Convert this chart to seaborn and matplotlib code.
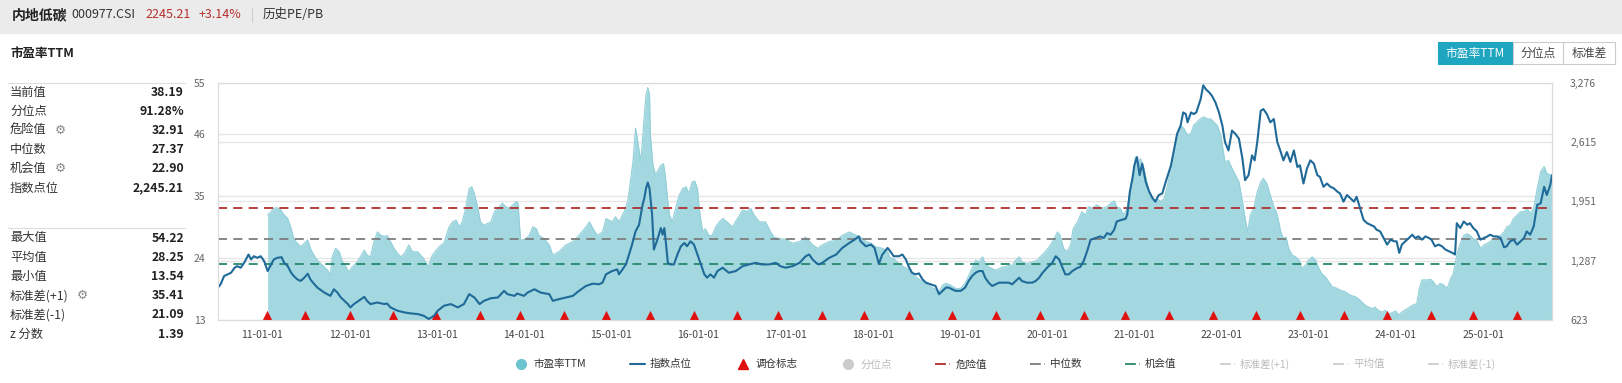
import numpy as np
import pandas as pd
import matplotlib
matplotlib.use("Agg")
import matplotlib.pyplot as plt
import matplotlib.dates as mdates
from matplotlib.lines import Line2D
from matplotlib.patches import Rectangle
from matplotlib.ticker import FuncFormatter
import seaborn as sns

W, H = 1622, 383

# values, dates given as fractional years
pe_years = [
    2011.06, 2011.10, 2011.13, 2011.17, 2011.21, 2011.25, 2011.29, 2011.33, 2011.36, 2011.40,
    2011.44, 2011.48, 2011.52, 2011.55, 2011.59, 2011.63, 2011.71, 2011.75, 2011.78, 2011.80,
    2011.84, 2011.88, 2011.92, 2011.96, 2011.99, 2012.03, 2012.09, 2012.17, 2012.20, 2012.24,
    2012.28, 2012.32, 2012.36, 2012.40, 2012.43, 2012.47, 2012.51, 2012.55, 2012.59, 2012.63,
    2012.68, 2012.72, 2012.78, 2012.85, 2012.90, 2012.95, 2013.01, 2013.05, 2013.08, 2013.14,
    2013.18, 2013.22, 2013.26, 2013.29, 2013.33, 2013.37, 2013.40, 2013.43, 2013.47, 2013.50,
    2013.54, 2013.62, 2013.66, 2013.70, 2013.75, 2013.79, 2013.83, 2013.87, 2013.91, 2013.93,
    2013.96, 2014.02, 2014.06, 2014.10, 2014.14, 2014.17, 2014.23,
    2014.29, 2014.33, 2014.40, 2014.48, 2014.56, 2014.63, 2014.71, 2014.75, 2014.79, 2014.84,
    2014.90, 2014.94, 2015.01, 2015.05, 2015.09, 2015.15, 2015.19, 2015.22, 2015.25, 2015.28,
    2015.30, 2015.34, 2015.38, 2015.40, 2015.42, 2015.44, 2015.45, 2015.48, 2015.51, 2015.54,
    2015.57, 2015.60, 2015.62, 2015.65, 2015.67, 2015.70, 2015.74, 2015.78, 2015.82, 2015.86,
    2015.89, 2015.93, 2015.96, 2015.99, 2016.01, 2016.05, 2016.08, 2016.12, 2016.16, 2016.20,
    2016.24, 2016.28, 2016.33, 2016.39, 2016.45, 2016.51, 2016.56, 2016.60, 2016.64, 2016.70,
    2016.77, 2016.83, 2016.87, 2016.93, 2017.00, 2017.08, 2017.16, 2017.23, 2017.31, 2017.37,
    2017.42, 2017.50, 2017.58, 2017.65, 2017.73, 2017.81, 2017.86, 2017.92, 2017.98, 2018.03,
    2018.11, 2018.17,
    2018.20, 2018.24, 2018.32, 2018.40, 2018.47, 2018.55, 2018.63, 2018.70, 2018.76, 2018.80,
    2018.84, 2018.89, 2018.95, 2019.01, 2019.06, 2019.12, 2019.18, 2019.22, 2019.26, 2019.29,
    2019.33, 2019.37, 2019.41, 2019.45, 2019.49, 2019.52, 2019.56, 2019.60, 2019.64, 2019.68,
    2019.71, 2019.77, 2019.83, 2019.89, 2019.92, 2019.98, 2020.04, 2020.08, 2020.12, 2020.15,
    2020.19, 2020.23, 2020.27, 2020.30, 2020.35, 2020.40, 2020.44, 2020.48, 2020.52, 2020.57,
    2020.63, 2020.69, 2020.73, 2020.77, 2020.80, 2020.84, 2020.88, 2020.92, 2020.96, 2021.00,
    2021.01, 2021.04, 2021.07, 2021.11, 2021.15, 2021.19, 2021.22, 2021.26, 2021.30, 2021.34,
    2021.38, 2021.42, 2021.45, 2021.49, 2021.53, 2021.57, 2021.61, 2021.65, 2021.68, 2021.72,
    2021.76, 2021.80, 2021.84, 2021.87, 2021.91, 2021.95, 2021.99,
    2022.04, 2022.08, 2022.12, 2022.16, 2022.20, 2022.24, 2022.27, 2022.30, 2022.33, 2022.37,
    2022.41, 2022.45, 2022.48, 2022.52, 2022.56, 2022.60, 2022.64, 2022.68, 2022.71, 2022.74,
    2022.77, 2022.81, 2022.85, 2022.89, 2022.92, 2022.96, 2023.00, 2023.04, 2023.08, 2023.11,
    2023.15, 2023.19, 2023.23, 2023.27, 2023.33, 2023.36, 2023.42, 2023.48, 2023.54, 2023.57,
    2023.61, 2023.65, 2023.69, 2023.73, 2023.76, 2023.80, 2023.84, 2023.88, 2023.92, 2023.96,
    2024.00, 2024.03, 2024.07, 2024.13, 2024.19, 2024.24, 2024.27, 2024.30, 2024.36, 2024.40,
    2024.43, 2024.47, 2024.51, 2024.55, 2024.59, 2024.63, 2024.66, 2024.70, 2024.74, 2024.78,
    2024.82, 2024.85, 2024.89, 2024.93, 2024.97, 2025.01, 2025.05, 2025.08, 2025.12, 2025.16,
    2025.20, 2025.24, 2025.27, 2025.31, 2025.35, 2025.39, 2025.43, 2025.47, 2025.50, 2025.54,
    2025.58, 2025.62, 2025.66, 2025.70, 2025.73, 2025.77, 2025.79,
]
pe_values = [
    31.6, 32.2, 32.8, 32.9, 32.5, 31.6, 31.0, 29.2, 27.4, 26.6,
    26.0, 26.6, 27.2, 25.7, 24.5, 23.6, 22.4, 21.8, 20.9, 24.2,
    25.7, 25.1, 23.3, 22.4, 21.5, 22.4, 23.3, 25.4, 24.5, 24.2,
    26.9, 28.6, 28.0, 27.8, 28.0, 26.9, 25.7, 24.8, 24.2, 24.8,
    26.3, 25.1, 25.1, 23.9, 22.4, 24.5, 25.7, 26.3, 26.6, 29.5,
    30.4, 30.7, 29.5, 30.4, 32.8, 36.3, 36.6, 35.4, 32.8, 30.4,
    29.8, 30.4, 32.2, 32.8, 33.7, 33.1, 32.8, 33.4, 34.0, 33.7,
    27.1, 27.4, 28.0, 29.5, 29.2, 28.0, 27.4,
    26.3, 24.5, 25.1, 26.3, 26.9, 28.0, 29.5, 30.4, 29.2, 28.0,
    28.6, 31.0, 30.4, 31.3, 30.4, 32.2, 34.0, 37.5, 41.0, 47.0,
    45.2, 41.0, 49.3, 52.9, 54.2, 52.9, 45.8, 40.4, 38.7, 39.6,
    40.4, 40.7, 38.7, 34.0, 31.6, 30.4, 32.8, 35.1, 36.3, 36.6,
    35.4, 37.5, 37.6, 36.3, 32.8, 28.6, 29.2, 28.0, 28.0, 29.5,
    30.4, 31.0, 30.4, 29.5, 31.0, 32.5, 32.2, 32.8, 31.6, 30.4,
    30.4, 28.6, 27.7, 27.4, 27.3, 26.6, 26.9, 27.7, 26.3, 25.7,
    26.3, 26.9, 27.1, 28.0, 28.6, 28.0, 27.7, 26.9, 26.6, 26.0,
    25.7, 25.2,
    24.0, 23.9, 22.7, 22.1, 20.9, 20.0, 19.2, 18.6, 18.0, 19.2,
    19.5, 19.2, 18.6, 18.6, 19.5, 21.5, 23.6, 23.3, 24.2, 23.0,
    22.4, 22.1, 21.8, 22.1, 22.4, 22.4, 22.7, 22.7, 23.6, 24.2,
    23.3, 23.0, 23.3, 23.6, 24.2, 25.1, 26.3, 27.4, 28.6, 28.0,
    25.7, 25.1, 26.3, 29.2, 30.4, 32.2, 31.6, 33.1, 32.8, 33.4,
    32.8, 33.1, 33.7, 34.1, 33.1, 32.8, 31.6, 32.8, 36.3, 40.4,
    41.9, 40.7, 41.6, 39.9, 36.9, 34.5, 34.0, 34.5, 34.0, 34.5,
    36.9, 39.9, 42.2, 44.6, 47.5, 46.9, 45.8, 46.1, 47.5, 48.1,
    48.7, 49.0, 48.6, 48.7, 48.1, 47.5, 45.8,
    41.0, 41.3, 39.9, 38.7, 37.5, 34.0, 31.0, 28.6, 31.6, 32.8,
    35.7, 37.5, 38.1, 37.2, 35.1, 33.1, 31.6, 28.6, 27.4, 27.7,
    25.7, 24.5, 24.2, 23.6, 22.1, 22.7, 23.6, 24.2, 23.6, 22.4,
    21.2, 20.7, 19.8, 18.9, 18.6, 18.3, 18.0, 17.4, 17.1, 16.8,
    16.2, 15.6, 15.3, 15.0, 15.3, 14.7, 14.4, 14.7, 14.1, 14.3,
    14.6, 13.9, 14.4, 15.0, 15.6, 15.9, 18.6, 20.1, 20.1, 20.2,
    19.8, 18.9, 19.5, 19.2, 18.6, 20.4, 21.2, 24.5, 26.6, 28.0,
    28.3, 28.0, 27.4, 27.1, 25.7, 26.3, 26.6, 26.9, 27.4, 27.7,
    28.0, 28.6, 29.5, 29.8, 31.0, 31.6, 32.2, 32.2, 32.8, 31.9,
    32.8, 36.3, 39.3, 40.2, 39.0, 38.7, 38.19,
]

idx_years = [
    2010.49, 2010.52, 2010.56, 2010.60, 2010.64, 2010.68, 2010.71, 2010.75, 2010.79, 2010.84,
    2010.87, 2010.90, 2010.94, 2010.98, 2011.02, 2011.06, 2011.10, 2011.13, 2011.17, 2011.22,
    2011.25, 2011.29, 2011.33, 2011.36, 2011.40, 2011.44, 2011.48, 2011.52, 2011.55, 2011.59,
    2011.63, 2011.71, 2011.78, 2011.82, 2011.86, 2011.90, 2011.98, 2012.01, 2012.05, 2012.13,
    2012.17, 2012.20, 2012.24, 2012.32, 2012.40, 2012.43, 2012.47, 2012.55, 2012.63, 2012.70,
    2012.78, 2012.85, 2012.91, 2012.97, 2013.01, 2013.08, 2013.16, 2013.24, 2013.31, 2013.37,
    2013.43, 2013.49, 2013.54, 2013.62, 2013.70, 2013.77, 2013.81, 2013.89, 2013.92, 2014.00,
    2014.04, 2014.12, 2014.19,
    2014.29, 2014.33, 2014.40, 2014.48, 2014.56, 2014.63, 2014.71, 2014.79, 2014.86, 2014.90,
    2014.94, 2015.01, 2015.07, 2015.09, 2015.17, 2015.24, 2015.28, 2015.32, 2015.36, 2015.38,
    2015.40, 2015.42, 2015.44, 2015.47, 2015.49, 2015.53, 2015.57, 2015.59, 2015.61, 2015.63,
    2015.65, 2015.68, 2015.72, 2015.76, 2015.80, 2015.84, 2015.87, 2015.91, 2015.95, 2015.99,
    2016.03, 2016.07, 2016.10, 2016.14, 2016.18, 2016.22, 2016.28, 2016.35, 2016.43, 2016.51,
    2016.58, 2016.66, 2016.73, 2016.81, 2016.89, 2016.94, 2017.00, 2017.08, 2017.16, 2017.23,
    2017.27, 2017.31, 2017.35, 2017.38, 2017.42, 2017.50, 2017.58, 2017.65, 2017.73, 2017.79,
    2017.84, 2017.86, 2017.92, 2017.98, 2018.02, 2018.07, 2018.11, 2018.17,
    2018.20, 2018.24, 2018.30, 2018.34, 2018.38, 2018.41, 2018.45, 2018.49, 2018.53, 2018.57,
    2018.61, 2018.66, 2018.72, 2018.76, 2018.80, 2018.84, 2018.87, 2018.91, 2018.95, 2019.01,
    2019.06, 2019.10, 2019.14, 2019.18, 2019.22, 2019.26, 2019.29, 2019.33, 2019.37, 2019.41,
    2019.45, 2019.50, 2019.56, 2019.60, 2019.64, 2019.68, 2019.71, 2019.77, 2019.83, 2019.87,
    2019.91, 2019.94, 2020.00, 2020.06, 2020.10, 2020.14, 2020.17, 2020.21, 2020.25, 2020.29,
    2020.35, 2020.38, 2020.42, 2020.46, 2020.50, 2020.56, 2020.61, 2020.65, 2020.69, 2020.73,
    2020.77, 2020.80, 2020.84, 2020.90, 2020.92, 2020.95, 2020.98, 2021.00, 2021.03, 2021.06,
    2021.09, 2021.13, 2021.17, 2021.21, 2021.24, 2021.28, 2021.32, 2021.36, 2021.42, 2021.45,
    2021.49, 2021.53, 2021.56, 2021.59, 2021.61, 2021.65, 2021.68, 2021.71, 2021.76, 2021.79,
    2021.82, 2021.86, 2021.89, 2021.93, 2021.97, 2022.01,
    2022.04, 2022.08, 2022.12, 2022.16, 2022.20, 2022.24, 2022.27, 2022.31, 2022.35, 2022.38,
    2022.41, 2022.45, 2022.48, 2022.52, 2022.56, 2022.60, 2022.64, 2022.68, 2022.71, 2022.75,
    2022.79, 2022.83, 2022.87, 2022.90, 2022.94, 2022.98, 2023.02, 2023.06, 2023.10, 2023.13,
    2023.17, 2023.21, 2023.25, 2023.29, 2023.33, 2023.36, 2023.40, 2023.44, 2023.48, 2023.52,
    2023.55, 2023.59, 2023.63, 2023.67, 2023.71, 2023.75, 2023.78, 2023.82, 2023.86, 2023.90,
    2023.94, 2023.98, 2024.01, 2024.04, 2024.07, 2024.11, 2024.15, 2024.19, 2024.22, 2024.26,
    2024.30, 2024.34, 2024.38, 2024.41, 2024.45, 2024.49, 2024.53, 2024.57, 2024.61, 2024.65,
    2024.68, 2024.70, 2024.74, 2024.78, 2024.82, 2024.85, 2024.89, 2024.93, 2024.97, 2025.01,
    2025.05, 2025.08, 2025.12, 2025.16, 2025.20, 2025.24, 2025.27, 2025.31, 2025.35, 2025.39,
    2025.43, 2025.47, 2025.50, 2025.54, 2025.58, 2025.62, 2025.66, 2025.70, 2025.73, 2025.77,
    2025.79,
]
idx_values = [
    986, 1023, 1115, 1134, 1152, 1208, 1226, 1208, 1263, 1356,
    1300, 1337, 1319, 1337, 1282, 1171, 1245, 1300, 1319, 1326,
    1263, 1226, 1152, 1115, 1078, 1060, 1097, 1141, 1078, 1030,
    986, 930, 893, 967, 930, 875, 801, 764, 801, 856,
    882, 838, 801, 819, 801, 808, 764, 727, 708, 697,
    690, 671, 634, 671, 727, 782, 801, 764, 801, 912,
    875, 801, 838, 867, 875, 949, 912, 893, 919, 893,
    930, 967, 930,
    912, 838, 856, 875, 893, 949, 1004, 1030, 1023, 1041,
    1134, 1171, 1189, 1134, 1245, 1467, 1615, 1689, 1911, 1985,
    2096, 2162, 2096, 1800, 1411, 1522, 1652, 1578, 1652, 1467,
    1263, 1245, 1245, 1356, 1448, 1485, 1448, 1504, 1467, 1356,
    1245, 1134, 1097, 1134, 1097, 1171, 1208, 1152, 1171, 1226,
    1245, 1263, 1245, 1245, 1263, 1226, 1208, 1226, 1263, 1337,
    1356, 1300, 1263, 1245, 1263, 1319, 1356, 1430, 1485, 1522,
    1559, 1504, 1448, 1467, 1430, 1252, 1356, 1430,
    1393, 1337, 1337, 1356, 1300, 1226, 1152, 1134, 1145, 1078,
    1041, 1023, 1004, 912, 949, 986, 986, 967, 949, 949,
    986, 1060, 1115, 1152, 1171, 1171, 1097, 1041, 1004, 1023,
    1041, 1041, 1041, 1023, 1060, 1097, 1060, 1041, 1041, 1060,
    1097, 1141, 1208, 1263, 1337, 1300, 1226, 1134, 1134, 1171,
    1208, 1215, 1282, 1393, 1522, 1541, 1559, 1541, 1596, 1578,
    1633, 1726, 1740, 1755, 1800, 2059, 2207, 2355, 2447, 2244,
    2373, 2170, 2059, 1985, 1948, 2022, 2040, 2170, 2355, 2503,
    2706, 2799, 2947, 2928, 2836, 2947, 2928, 2947, 3095, 3250,
    3206, 3169, 3132, 3058, 2947, 2799,
    2614, 2521, 2743, 2706, 2651, 2429, 2188, 2244, 2466, 2410,
    2614, 2965, 2984, 2928, 2836, 2873, 2614, 2503, 2410, 2503,
    2392, 2521, 2336, 2355, 2151, 2318, 2410, 2373, 2244, 2225,
    2114, 2151, 2114, 2096, 2059, 2040, 1948, 2022, 1985, 1948,
    2003, 1874, 1744, 1707, 1689, 1670, 1633, 1615, 1541, 1467,
    1522, 1504, 1504, 1374, 1467, 1504, 1541, 1578, 1541, 1559,
    1522, 1559, 1541, 1522, 1448, 1467, 1448, 1411, 1393, 1374,
    1356, 1707, 1652, 1726, 1689, 1707, 1652, 1615, 1522, 1541,
    1559, 1578, 1559, 1559, 1541, 1437, 1448, 1504, 1522, 1467,
    1504, 1541, 1615, 1578, 1670, 1911, 1929, 2114, 2022, 2133,
    2245.21,
]

rebalance_years = [
    2011.05, 2011.49, 2012.00, 2012.50, 2012.99, 2013.50, 2013.95, 2014.46, 2014.94, 2015.45,
    2015.95, 2016.44, 2016.92, 2017.42, 2017.90, 2018.41, 2018.91, 2019.41, 2019.92, 2020.42,
    2020.90, 2021.40, 2021.90, 2022.40, 2022.90, 2023.40, 2023.90, 2024.40, 2024.89, 2025.39,
]

pe_ticks = [13, 24, 35, 46, 55]
idx_ticks = [623, 1287, 1951, 2615, 3276]
danger_pe = 32.91
median_pe = 27.37
chance_pe = 22.90

stats_top = [("当前值", "38.19"), ("分位点", "91.28%"), ("危险值", "32.91"),
             ("中位数", "27.37"), ("机会值", "22.90"), ("指数点位", "2,245.21")]
stats_bottom = [("最大值", "54.22"), ("平均值", "28.25"), ("最小值", "13.54"),
                ("标准差(+1)", "35.41"), ("标准差(-1)", "21.09"), ("z 分数", "1.39")]
gear_rows = {"危险值": 60, "机会值": 60, "标准差(+1)": 82}

legend_labels = ["市盈率TTM", "指数点位", "调仓标志", "分位点", "危险值", "中位数",
                 "机会值", "标准差(+1)", "平均值", "标准差(-1)"]


def to_dates(years):
    y = np.asarray(years, dtype=float)
    whole = np.floor(y).astype(int)
    start = pd.to_datetime(whole.astype(str), format="%Y")
    return start + pd.to_timedelta((y - whole) * 365.25, unit="D")


def fx(x):
    return x / W


def fy(y):
    return 1 - y / H


sns.set_theme(style="white")
plt.rcParams["font.family"] = ["Noto Sans CJK SC", "DejaVu Sans"]
plt.rcParams["axes.unicode_minus"] = False

pe = pd.DataFrame({"date": to_dates(pe_years), "pe": pe_values})
idx = pd.DataFrame({"date": to_dates(idx_years), "index": idx_values})

fig = plt.figure(figsize=(W / 100, H / 100), dpi=100)
fig.patch.set_facecolor("white")

ax = fig.add_axes([fx(218), fy(320), (1552 - 218) / W, (320 - 83) / H])
ax2 = ax.twinx()

ax.set_ylim(pe_ticks[0], pe_ticks[-1])
ax2.set_ylim(idx_ticks[0], idx_ticks[-1])
ax.set_xlim(idx["date"].iloc[0], idx["date"].iloc[-1])

# grid for both scales, drawn on the PE axes so it stays under the fill
lo, hi = idx_ticks[0], idx_ticks[-1]
right_grid = [pe_ticks[0] + (v - lo) / (hi - lo) * (pe_ticks[-1] - pe_ticks[0]) for v in idx_ticks]
ax.set_yticks(pe_ticks)
ax.set_yticks(right_grid, minor=True)
ax.grid(axis="y", which="both", color="#e6e6e6", lw=1)
ax.set_axisbelow(True)

ax.fill_between(pe["date"], pe["pe"], pe_ticks[0], color="#a3d8e0", lw=0, zorder=2)
sns.lineplot(data=pe, x="date", y="pe", ax=ax, color="#93d0da", lw=0.8, zorder=3)

for val, col in [(danger_pe, "#b0302e"), (median_pe, "#7d7d7d"), (chance_pe, "#25896a")]:
    ax.axhline(val, color=col, ls=(0, (5, 3.5)), lw=1.3, zorder=4)

ax.scatter(to_dates(rebalance_years), np.full(len(rebalance_years), 0.019),
           transform=ax.get_xaxis_transform(), marker="^", s=45,
           color="#e01010", lw=0, clip_on=False, zorder=6)

sns.lineplot(data=idx, x="date", y="index", ax=ax2, color="#1f6a98", lw=1.5)
ax2.set_yticks(idx_ticks)
ax2.yaxis.set_major_formatter(FuncFormatter(lambda v, p: f"{v:,.0f}"))
ax2.grid(False)

ax.xaxis.set_major_locator(mdates.YearLocator())
ax.xaxis.set_major_formatter(mdates.DateFormatter("%y-%m-%d"))

for a in (ax, ax2):
    a.set_xlabel("")
    a.set_ylabel("")
    for s in a.spines.values():
        s.set_color("#dcdcdc")
        s.set_linewidth(0.8)
ax.tick_params(axis="y", which="both", length=0, labelsize=7.5, labelcolor="#666", pad=9)
ax.tick_params(axis="x", length=0, labelsize=7.5, labelcolor="#444", pad=7)
ax2.tick_params(axis="y", length=0, labelsize=7.5, labelcolor="#666", pad=13)

# header bar
fig.add_artist(Rectangle((0, fy(33)), 1, 33 / H, transform=fig.transFigure,
                         color="#ebebeb", zorder=0))
fig.text(fx(12), fy(15), "内地低碳", fontsize=10, fontweight="bold", color="#222", va="center")
fig.text(fx(71), fy(15), "000977.CSI", fontsize=9, color="#333", va="center")
fig.text(fx(145), fy(15), "2245.21", fontsize=9, color="#b8312f", va="center")
fig.text(fx(199), fy(15), "+3.14%", fontsize=9, color="#b8312f", va="center")
fig.add_artist(Line2D([fx(252), fx(252)], [fy(8), fy(22)], transform=fig.transFigure,
                      color="#cfcfcf", lw=0.8))
fig.text(fx(263), fy(15), "历史PE/PB", fontsize=9, color="#333", va="center")

fig.text(fx(10), fy(53), "市盈率TTM", fontsize=9, fontweight="bold", color="#222", va="center")

# toggle buttons at top right
buttons = [("市盈率TTM", 1438, 1513, True), ("分位点", 1513, 1563, False), ("标准差", 1563, 1615, False)]
for label, x0, x1, active in buttons:
    fig.add_artist(Rectangle((fx(x0), fy(64)), (x1 - x0) / W, 22 / H, transform=fig.transFigure,
                             facecolor="#1ea6c1" if active else "white",
                             edgecolor="#1ea6c1" if active else "#cccccc", lw=0.8))
    fig.text(fx((x0 + x1) / 2), fy(53), label, fontsize=8.5, ha="center", va="center",
             color="white" if active else "#444")

# left statistics panel
for sep_y, rows, y0 in [(83, stats_top, 92), (228, stats_bottom, 238)]:
    fig.add_artist(Line2D([fx(8), fx(185)], [fy(sep_y), fy(sep_y)], transform=fig.transFigure,
                          color="#dddddd", lw=0.8))
    for i, (label, value) in enumerate(rows):
        y = y0 + i * 19.2
        fig.text(fx(10), fy(y), label, fontsize=8.8, color="#333", va="center")
        fig.text(fx(184), fy(y), value, fontsize=8.8, color="#222", va="center",
                 ha="right", fontweight="bold")
        if label in gear_rows:
            fig.text(fx(gear_rows[label]), fy(y), "⚙", fontsize=9, color="#888",
                     va="center", ha="center")

# legend
line_styles = dict(ls=(0, (6, 2, 1.2, 2)), lw=1.3)
handles = [
    Line2D([], [], marker="o", ls="", color="#6cc4cf", markersize=7),
    Line2D([], [], color="#1f6a98", lw=1.5),
    Line2D([], [], marker="^", ls="", color="#e01010", markersize=7),
    Line2D([], [], marker="o", ls="", color="#cccccc", markersize=7),
    Line2D([], [], color="#b0302e", **line_styles),
    Line2D([], [], color="#7d7d7d", **line_styles),
    Line2D([], [], color="#25896a", **line_styles),
    Line2D([], [], color="#cccccc", **line_styles),
    Line2D([], [], color="#cccccc", **line_styles),
    Line2D([], [], color="#cccccc", **line_styles),
]
label_colors = ["#333", "#333", "#333", "#bbb", "#333", "#333", "#333", "#bbb", "#bbb", "#bbb"]
fig.legend(handles, legend_labels, loc="center", bbox_to_anchor=(fx(1005), fy(364)),
           ncol=10, frameon=False, fontsize=7.6, handlelength=1.4, handletextpad=0.5,
           columnspacing=4.1, labelcolor=label_colors)

fig.savefig("out.png", dpi=100)
